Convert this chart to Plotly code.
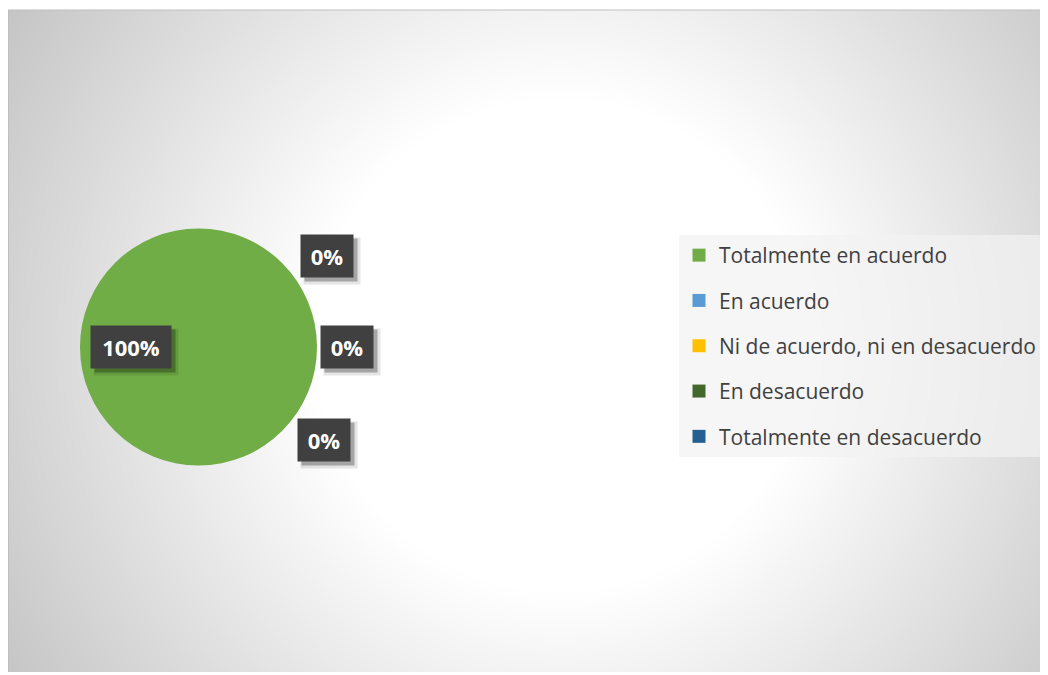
import numpy as np
import plotly.graph_objects as go

# datos de la encuesta (porcentaje de respuestas)
categorias = ["Totalmente en acuerdo", "En acuerdo", "Ni de acuerdo, ni en desacuerdo",
              "En desacuerdo", "Totalmente en desacuerdo"]
valores = [100, 0, 0, 0, 0]
colores = ["#70AD47", "#5B9BD5", "#FFC000", "#43682B", "#255E91"]

# la pagina tiene 8px de margen en el body
FW, FH = 1040, 667
OFF = 8


def px2x(px):
    return (px - OFF) / FW


def px2y(py):
    return 1 - (py - OFF) / FH


total = sum(valores)
etiquetas = ["{}%".format(round(100 * v / total)) for v in valores]

fig = go.Figure()

# fondo con degradado radial (estilo Excel)
gx = np.linspace(8, 1048, 120)
gy = np.linspace(10, 672, 80)
XX, YY = np.meshgrid(gx, gy)
dist = np.sqrt((XX - 560) ** 2 + (YY - 345) ** 2)
gris = np.clip(255 - (dist - 245) * 0.145, 0, 255)
fig.add_trace(go.Heatmap(x=gx, y=gy, z=gris, zmin=0, zmax=255, zsmooth="best",
                         colorscale=[[0, "rgb(0,0,0)"], [1, "rgb(255,255,255)"]],
                         showscale=False, hoverinfo="skip", showlegend=False))

fig.add_trace(go.Pie(labels=categorias, values=valores,
                     marker=dict(colors=colores, line=dict(width=0)),
                     domain=dict(x=[px2x(80), px2x(317)], y=[px2y(466), px2y(228)]),
                     textinfo="none", sort=False, direction="clockwise", rotation=90,
                     showlegend=False, hoverinfo="label+percent"))

# entradas de la leyenda (una por categoria, para poder espaciarlas)
for cat, col in zip(categorias, colores):
    fig.add_trace(go.Scatter(x=[None], y=[None], mode="markers", name=cat, legendgroup=cat,
                             marker=dict(symbol="square", size=13, color=col)))

# etiquetas de datos: cajas oscuras con sombra
pos = [(131, 347, 78), (327, 256, 50), (347, 347, 50), (324, 440, 50)]
for (lx, ly, bw), txt in zip(pos, etiquetas):
    comun = dict(x=px2x(lx), y=px2y(ly), xref="paper", yref="paper", showarrow=False,
                 xanchor="center", yanchor="middle")
    fig.add_annotation(text="", width=bw + 4, height=44, bgcolor="rgba(0,0,0,0.10)",
                       xshift=5, yshift=-5, **comun)
    fig.add_annotation(text="", width=bw, height=40, bgcolor="rgba(0,0,0,0.28)",
                       xshift=4, yshift=-4, **comun)
    fig.add_annotation(text="<b>" + txt + "</b>", width=bw, height=40, bgcolor="#404040",
                       font=dict(family="Open Sans", size=22, color="white"), **comun)

fig.update_layout(
    width=FW, height=FH,
    margin=dict(l=0, r=0, t=0, b=0),
    paper_bgcolor="white", plot_bgcolor="white",
    xaxis=dict(visible=False, range=[8, 1048], domain=[0, 1]),
    yaxis=dict(visible=False, range=[672, 10], domain=[px2y(672), px2y(10)]),
    legend=dict(x=px2x(679), y=px2y(235), xanchor="left", yanchor="top",
                bgcolor="rgba(242,242,242,0.7)", tracegroupgap=15,
                font=dict(family="Open Sans", size=21, color="#404040")),
    shapes=[
        dict(type="line", xref="paper", yref="paper", x0=0, x1=1, y0=px2y(10), y1=px2y(10),
             line=dict(color="#bfbfbf", width=1)),
        dict(type="line", xref="paper", yref="paper", x0=0, x1=0, y0=px2y(672), y1=px2y(10),
             line=dict(color="#bfbfbf", width=2)),
    ],
)

fig.write_html("out.html")
